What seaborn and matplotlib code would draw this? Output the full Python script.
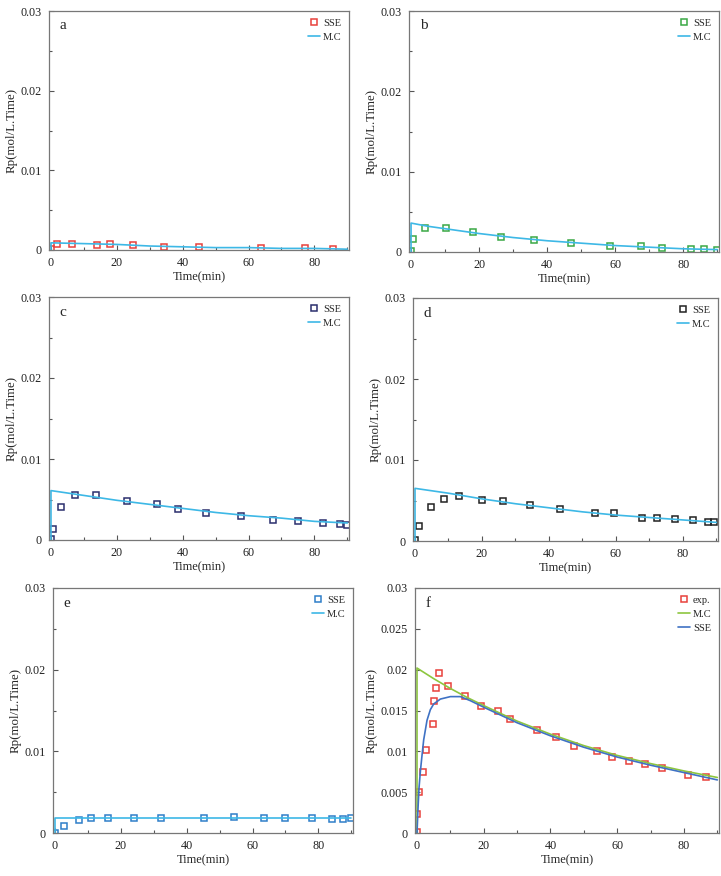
import numpy as np
import pandas as pd
import matplotlib
matplotlib.use('Agg')
import matplotlib.pyplot as plt
import seaborn as sns
from matplotlib.ticker import MultipleLocator, FuncFormatter

sns.set_style('ticks')
plt.rcParams['font.family'] = ['Liberation Serif', 'DejaVu Serif']

# datos =========================================================================
# a
t_a = [0, 1.7, 6.3, 13.9, 17.8, 24.9, 34.4, 45.1, 63.7, 77, 85.7]
rp_a = [0.0001, 0.0008, 0.0007, 0.0006, 0.0007, 0.0006, 0.0004, 0.0004, 0.0002, 0.0002, 0.0001]
mc_t_a = [0, 0, 10, 20, 30, 40, 50, 60, 70, 80, 90]
mc_a = [0, 0.0009, 0.0008, 0.0007, 0.0005, 0.0004, 0.0003, 0.0003, 0.0002, 0.0002, 0.0001]

# b
t_b = [0, 0.7, 4.1, 10.2, 18.1, 26.4, 36, 47, 58.5, 67.6, 73.8, 82.3, 86.2, 90]
rp_b = [0.0001, 0.0016, 0.003, 0.003, 0.0025, 0.0019, 0.0015, 0.0011, 0.0007, 0.0007, 0.0005, 0.0004, 0.0004, 0.0002]
mc_t_b = [0, 0, 5, 10, 20, 30, 40, 50, 60, 70, 80, 90]
mc_b = [0, 0.0036, 0.0032, 0.0029, 0.0023, 0.0018, 0.0014, 0.0011, 0.0008, 0.0006, 0.0004, 0.0003]

# c
t_c = [0, 0.7, 3, 7.2, 13.8, 23.1, 32.1, 38.5, 47, 57.7, 67.3, 75.1, 82.7, 87.7, 90]
rp_c = [0.0001, 0.0014, 0.0041, 0.0056, 0.0055, 0.0048, 0.0045, 0.0038, 0.0033, 0.003, 0.0025, 0.0023, 0.0021, 0.002, 0.0018]
mc_t_c = [0, 0, 10, 20, 30, 40, 50, 60, 70, 80, 90]
mc_c = [0, 0.0061, 0.0055, 0.0049, 0.0044, 0.0039, 0.0034, 0.003, 0.0027, 0.0023, 0.0021]

# d
t_d = [0, 1.3, 4.8, 8.8, 13.1, 20.1, 26.3, 34.3, 43.3, 53.9, 59.4, 67.7, 72.3, 77.6, 82.9, 87.6, 89.3]
rp_d = [0.0001, 0.0019, 0.0042, 0.0052, 0.0056, 0.0051, 0.0049, 0.0044, 0.004, 0.0035, 0.0034, 0.0028, 0.0028, 0.0027, 0.0026, 0.0023, 0.0023]
mc_t_d = [0, 0, 10, 20, 30, 40, 50, 60, 70, 80, 90]
mc_d = [0, 0.0065, 0.0059, 0.0052, 0.0046, 0.0041, 0.0036, 0.0032, 0.0029, 0.0026, 0.0023]

# e
t_e = [0, 2.6, 7.3, 11, 16.1, 24, 32.2, 45.4, 54.3, 63.6, 70, 78.1, 84.1, 87.4, 90]
rp_e = [0, 0.0009, 0.0016, 0.0018, 0.0018, 0.0018, 0.0018, 0.0018, 0.0019, 0.0018, 0.0018, 0.0018, 0.0017, 0.0017, 0.0018]
mc_t_e = [0, 0, 10, 20, 30, 40, 50, 60, 70, 80, 90]
mc_e = [0, 0.0018, 0.0018, 0.0018, 0.0018, 0.0018, 0.0018, 0.0018, 0.0018, 0.0018, 0.0018]

# f
t_f = [0, 0, 0.6, 1.8, 2.8, 4.7, 5.1, 5.7, 6.7, 9.3, 14.4, 19.2, 24.2, 27.9,
       36.1, 41.6, 46.9, 53.9, 58.5, 63.5, 68.2, 73.5, 81.3, 86.7]
rp_f = [0.0001, 0.0023, 0.005, 0.0075, 0.0102, 0.0133, 0.0162, 0.0178, 0.0196, 0.018, 0.0168, 0.0156, 0.0149, 0.0139,
        0.0126, 0.0117, 0.0107, 0.01, 0.0093, 0.0088, 0.0084, 0.008, 0.0071, 0.0069]
mc_t_f = [0, 0, 5, 10, 15, 20, 30, 40, 50, 60, 70, 80, 90]
mc_f = [0, 0.0202, 0.0189, 0.0177, 0.0166, 0.0156, 0.0137, 0.0121, 0.0107, 0.0095, 0.0085, 0.0076, 0.0068]
sse_t_f = [0, 0.3, 0.6, 1, 1.5, 2, 3, 4, 5, 7, 10, 13, 16, 20, 30, 40, 50, 60, 70, 80, 90]
sse_f = [0, 0.003, 0.0055, 0.0075, 0.0095, 0.0114, 0.0138, 0.0151, 0.0158, 0.0164, 0.0167, 0.0167, 0.0162, 0.0154,
         0.0135, 0.0119, 0.0105, 0.0093, 0.0083, 0.0074, 0.0065]

# layout (px: left, top, right, bottom) ===========================================
W, H = 721, 876
cajas = {'a': (49, 11, 349, 250), 'b': (409, 11, 719, 252),
         'c': (49, 297, 349, 540), 'd': (413, 298, 718, 541),
         'e': (53, 588, 353, 833), 'f': (415, 588, 719, 833)}

paneles = [
    ('a', t_a, rp_a, mc_t_a, mc_a, '#e8413c'),
    ('b', t_b, rp_b, mc_t_b, mc_b, '#3aa845'),
    ('c', t_c, rp_c, mc_t_c, mc_c, '#2b2f6e'),
    ('d', t_d, rp_d, mc_t_d, mc_d, '#222222'),
    ('e', t_e, rp_e, mc_t_e, mc_e, '#2f7fc9'),
]
azul_mc = '#3db8e6'

fig = plt.figure(figsize=(W / 100, H / 100), dpi=100)


def fmt_y(v, pos):
    return '0' if abs(v) < 1e-12 else f'{v:g}'


def base(ax, letra, paso_y):
    ax.set_xlim(-0.6, 90.5)
    ax.set_ylim(0, 0.03)
    ax.xaxis.set_major_locator(MultipleLocator(20))
    ax.xaxis.set_minor_locator(MultipleLocator(10))
    ax.yaxis.set_major_locator(MultipleLocator(paso_y))
    ax.yaxis.set_minor_locator(MultipleLocator(0.005))
    ax.yaxis.set_major_formatter(FuncFormatter(fmt_y))
    ax.tick_params(which='both', direction='in', labelsize=8.7, colors='#555555',
                   labelcolor='#222222', width=0.8)
    ax.tick_params(which='major', length=3.5)
    ax.tick_params(which='minor', length=2.5)
    ax.tick_params(axis='x', pad=5)
    ax.tick_params(axis='y', pad=5)
    for s in ax.spines.values():
        s.set_color('#777777')
        s.set_linewidth(0.9)
    ax.set_xlabel('Time(min)', fontsize=9, labelpad=2)
    ax.set_ylabel('Rp(mol/L.Time)', fontsize=9.3, labelpad=2.5)
    ax.text(0.035, 0.965, letra, transform=ax.transAxes, fontsize=11, va='top', ha='left')


def hacer_ax(letra):
    l, t, r, b = cajas[letra]
    return fig.add_axes([l / W, 1 - b / H, (r - l) / W, (b - t) / H])


leg_kw = dict(loc='upper right', frameon=False, fontsize=7.5, handlelength=1.2,
              handletextpad=0.25, labelspacing=0.45, borderaxespad=0.3)

for letra, t, rp, mt, mc, col in paneles:
    ax = hacer_ax(letra)
    sns.lineplot(x=t, y=rp, ax=ax, estimator=None, sort=False, linestyle='', marker='s',
                 markersize=4.5, markerfacecolor='none', markeredgecolor=col, markeredgewidth=1.1,
                 label='SSE')
    sns.lineplot(x=mt, y=mc, ax=ax, estimator=None, sort=False, color=azul_mc, linewidth=1.2,
                 label='M.C')
    base(ax, letra, 0.01)
    ax.legend(**leg_kw)

# panel f
ax = hacer_ax('f')
sns.lineplot(x=t_f, y=rp_f, ax=ax, estimator=None, sort=False, linestyle='', marker='s',
             markersize=4.5, markerfacecolor='none', markeredgecolor='#e8413c', markeredgewidth=1.1,
             label='exp.')
sns.lineplot(x=mc_t_f, y=mc_f, ax=ax, estimator=None, sort=False, color='#8dc63f', linewidth=1.2,
             label='M.C')
sns.lineplot(x=sse_t_f, y=sse_f, ax=ax, estimator=None, sort=False, color='#3f72c4', linewidth=1.2,
             label='SSE')
base(ax, 'f', 0.005)
ax.legend(**leg_kw)

fig.savefig('out.png', dpi=100)
